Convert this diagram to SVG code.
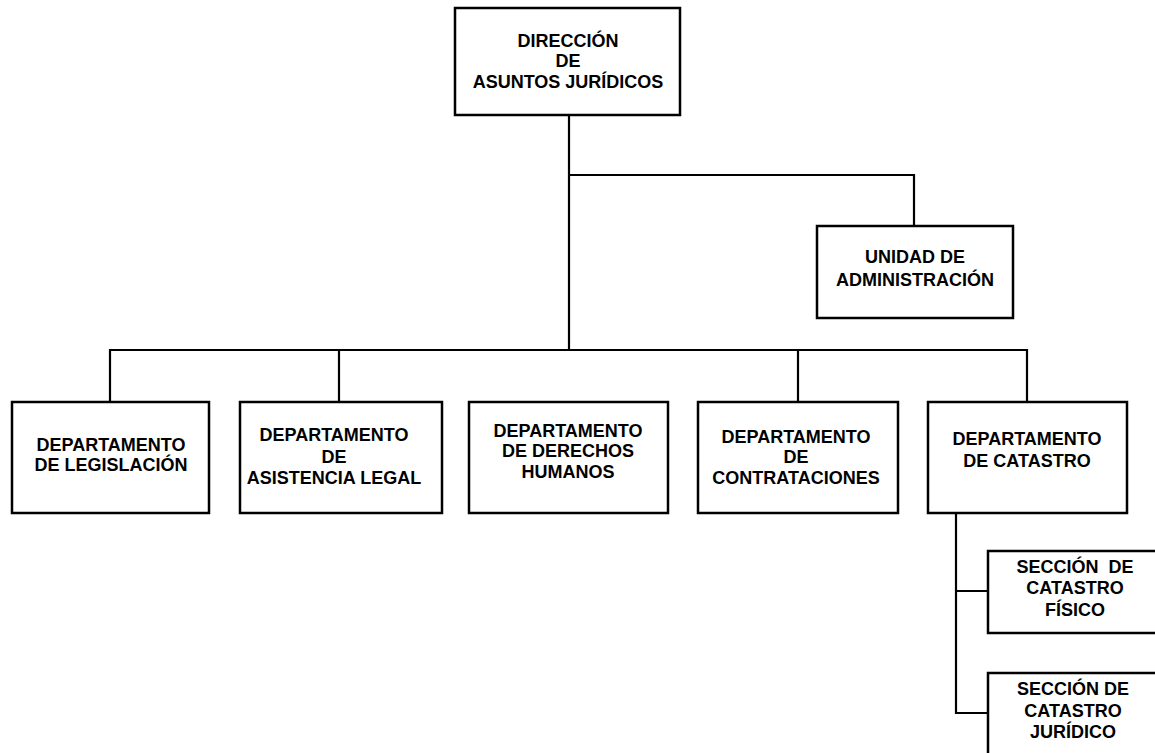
<svg xmlns="http://www.w3.org/2000/svg" width="1155" height="753" viewBox="0 0 1155 753">
<style>
.box{fill:#fff;stroke:#000;stroke-width:2.5}
.ln{fill:none;stroke:#000;stroke-width:2.2}
text{font-family:"Liberation Sans",Arial,sans-serif;font-weight:bold;font-size:18px;fill:#000;text-anchor:middle}
</style>
<rect width="1155" height="753" fill="#fff"/>
<g id="connectors">
<path class="ln" d="M569 115V350M569 175H914V226M110 402V350H1027V402M339 350V402M798 350V402M956 513V713H988M956 591H988"/>
</g>
<g id="direccion">
<rect class="box" x="455" y="8" width="225" height="107"/>
<text x="568" y="47">DIRECCIÓN</text>
<text x="568" y="67">DE</text>
<text x="568" y="88">ASUNTOS JURÍDICOS</text>
</g>
<g id="unidad">
<rect class="box" x="817" y="226" width="196" height="92"/>
<text x="915" y="263">UNIDAD DE</text>
<text x="915" y="286">ADMINISTRACIÓN</text>
</g>
<g id="legislacion">
<rect class="box" x="12" y="402" width="197" height="111"/>
<text x="111" y="451">DEPARTAMENTO</text>
<text x="111" y="471">DE LEGISLACIÓN</text>
</g>
<g id="asistencia">
<rect class="box" x="240" y="402" width="202" height="111"/>
<text x="334" y="441">DEPARTAMENTO</text>
<text x="334" y="463">DE</text>
<text x="334" y="484">ASISTENCIA LEGAL</text>
</g>
<g id="derechos">
<rect class="box" x="469" y="402" width="199" height="111"/>
<text x="568" y="437">DEPARTAMENTO</text>
<text x="568" y="457">DE DERECHOS</text>
<text x="568" y="478">HUMANOS</text>
</g>
<g id="contrataciones">
<rect class="box" x="698" y="402" width="200" height="111"/>
<text x="796" y="443">DEPARTAMENTO</text>
<text x="796" y="463">DE</text>
<text x="796" y="484">CONTRATACIONES</text>
</g>
<g id="catastro">
<rect class="box" x="928" y="402" width="199" height="111"/>
<text x="1027" y="445">DEPARTAMENTO</text>
<text x="1027" y="467">DE CATASTRO</text>
</g>
<g id="fisico">
<rect class="box" x="988" y="551" width="180" height="82"/>
<text x="1075" y="573" xml:space="preserve">SECCIÓN  DE</text>
<text x="1075" y="594">CATASTRO</text>
<text x="1075" y="616">FÍSICO</text>
</g>
<g id="juridico">
<rect class="box" x="988" y="673" width="180" height="100"/>
<text x="1073" y="695">SECCIÓN DE</text>
<text x="1073" y="717">CATASTRO</text>
<text x="1073" y="738">JURÍDICO</text>
</g>
</svg>
